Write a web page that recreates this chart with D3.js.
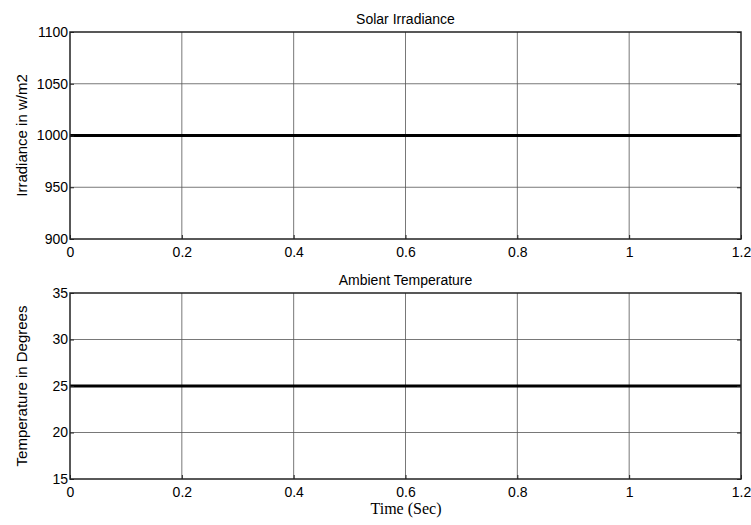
<!DOCTYPE html>
<html>
<head>
<meta charset="utf-8">
<script src="https://cdn.jsdelivr.net/npm/d3@7"></script>
<style>
  body { margin: 0; background: #fff; }
</style>
</head>
<body>
<script>
// Data
var timeValues = [0, 0.2, 0.4, 0.6, 0.8, 1, 1.2];
var irradianceValues = [1000, 1000, 1000, 1000, 1000, 1000, 1000];
var temperatureValues = [25, 25, 25, 25, 25, 25, 25];
var xTicks = [0, 0.2, 0.4, 0.6, 0.8, 1, 1.2];
var irrTicks = [900, 950, 1000, 1050, 1100];
var tempTicks = [15, 20, 25, 30, 35];

var sans = "'Liberation Sans', Arial, sans-serif";
var serif = "'Liberation Serif', 'Times New Roman', serif";

var W = 751, H = 525;
var svg = d3.select("body").append("svg")
  .attr("width", W)
  .attr("height", H);

var x = d3.scaleLinear().domain([0, 1.2]).range([70, 741]);

function drawPanel(values, yDomain, yTicks, top, bottom, title, ylabel) {
  var y = d3.scaleLinear().domain(yDomain).range([bottom, top]);
  var g = svg.append("g");

  // grid lines
  g.selectAll(".vgrid").data(xTicks.slice(1, -1)).enter().append("line")
    .attr("x1", function(d) { return x(d); })
    .attr("x2", function(d) { return x(d); })
    .attr("y1", top).attr("y2", bottom)
    .attr("stroke", "#555").attr("stroke-width", 0.8);
  g.selectAll(".hgrid").data(yTicks.slice(1, -1)).enter().append("line")
    .attr("x1", x.range()[0]).attr("x2", x.range()[1])
    .attr("y1", function(d) { return y(d); })
    .attr("y2", function(d) { return y(d); })
    .attr("stroke", "#555").attr("stroke-width", 0.8);

  // data line
  var line = d3.line()
    .x(function(d, i) { return x(timeValues[i]); })
    .y(function(d) { return y(d); });
  g.append("path").datum(values)
    .attr("d", line)
    .attr("fill", "none")
    .attr("stroke", "#000")
    .attr("stroke-width", 3);

  // frame
  g.append("rect")
    .attr("x", x.range()[0]).attr("y", top)
    .attr("width", x.range()[1] - x.range()[0])
    .attr("height", bottom - top)
    .attr("fill", "none").attr("stroke", "#222").attr("stroke-width", 1.5);

  // axes
  var xAxis = d3.axisBottom(x).tickValues(xTicks).tickSize(-4).tickPadding(8)
    .tickFormat(function(d) { return String(d); });
  var gx = g.append("g").attr("transform", "translate(0," + bottom + ")").call(xAxis);
  gx.select(".domain").remove();
  gx.selectAll("line").attr("stroke", "#222");
  gx.selectAll("text").style("font-family", sans).style("font-size", "14px").attr("fill", "#000");

  var yAxis = d3.axisLeft(y).tickValues(yTicks).tickSize(-4).tickPadding(2)
    .tickFormat(function(d) { return String(d); });
  var gy = g.append("g").attr("transform", "translate(" + x.range()[0] + ",0)").call(yAxis);
  gy.select(".domain").remove();
  gy.selectAll("line").attr("stroke", "#222");
  gy.selectAll("text").style("font-family", sans).style("font-size", "14px").attr("fill", "#000");

  // right-side ticks
  var yAxisR = d3.axisRight(y).tickValues(yTicks).tickSize(-4).tickFormat("");
  var gyr = g.append("g").attr("transform", "translate(" + x.range()[1] + ",0)").call(yAxisR);
  gyr.select(".domain").remove();
  gyr.selectAll("line").attr("stroke", "#222");

  // title
  g.append("text")
    .attr("x", (x.range()[0] + x.range()[1]) / 2)
    .attr("y", top - 8)
    .attr("text-anchor", "middle")
    .style("font-family", sans)
    .style("font-size", "14px")
    .attr("fill", "#000")
    .text(title);

  // y label
  g.append("text")
    .attr("transform", "translate(27," + (top + bottom) / 2 + ") rotate(-90)")
    .attr("text-anchor", "middle")
    .style("font-family", sans)
    .style("font-size", "15px")
    .attr("fill", "#000")
    .text(ylabel);
}

drawPanel(irradianceValues, [900, 1100], irrTicks, 32, 239, "Solar Irradiance", "Irradiance in w/m2");
drawPanel(temperatureValues, [15, 35], tempTicks, 293, 479, "Ambient Temperature", "Temperature in Degrees");

// x label
svg.append("text")
  .attr("x", 406)
  .attr("y", 514)
  .attr("text-anchor", "middle")
  .style("font-family", serif)
  .style("font-size", "16px")
  .attr("fill", "#000")
  .text("Time (Sec)");
</script>
</body>
</html>
